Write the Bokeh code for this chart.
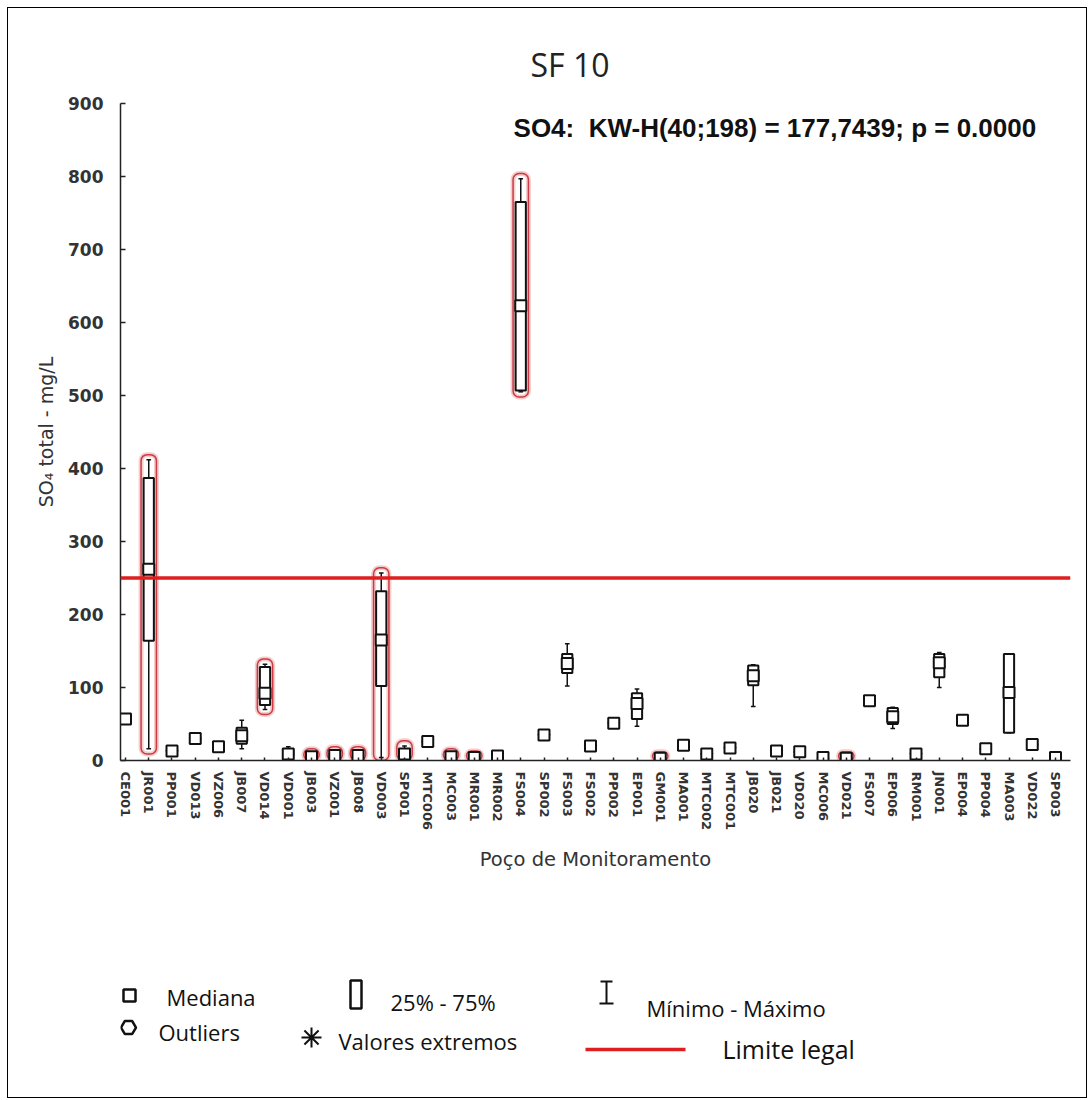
from bokeh.plotting import figure
from bokeh.models import Range1d, FixedTicker, Label, Span
from bokeh.layouts import column
from bokeh.embed import file_html
from bokeh.resources import INLINE
from bokeh.core.properties import value

# ---------------- data ----------------
wells = ["CE001", "JR001", "PP001", "VD013", "VZ006", "JB007", "VD014", "VD001", "JB003", "VZ001",
         "JB008", "VD003", "SP001", "MTC006", "MC003", "MR001", "MR002", "FS004", "SP002", "FS003",
         "FS002", "PP002", "EP001", "GM001", "MA001", "MTC002", "MTC001", "JB020", "JB021", "VD020",
         "MC006", "VD021", "FS007", "EP006", "RM001", "JN001", "EP004", "PP004", "MA003", "VD022",
         "SP003"]
w_min = [54, 16, 11, 28, 17, 16, 70, 3, 2, 2, 2, 4, 3, 24, 1, 1, 2, 505, 33, 102,
         18, 49, 47, 1, 19, 7, 15, 74, 11, 10, 2, 1, 80, 44, 7, 100, 53, 14, 38, 20, 2]
w_q1 = [55, 164, 12, 29, 18, 23, 76, 6, 3, 4, 4, 102, 6, 25, 3, 2, 4, 507, 34, 120,
        19, 50, 57, 2, 20, 8, 16, 103, 12, 11, 3, 2, 81, 50, 8, 114, 54, 15, 38, 21, 3]
w_med = [57, 262, 13, 30, 19, 34, 92, 9, 5, 7, 7, 165, 9, 26, 5, 4, 6, 623, 35, 133,
         20, 51, 78, 3, 21, 9, 17, 116, 13, 12, 4, 3, 82, 60, 9, 134, 55, 16, 93, 22, 4]
w_q3 = [59, 387, 14, 31, 20, 45, 128, 15, 7, 10, 10, 232, 12, 27, 7, 5, 8, 765, 36, 146,
        21, 52, 92, 4, 22, 10, 18, 130, 14, 13, 4, 4, 83, 72, 10, 146, 56, 17, 146, 23, 5]
w_max = [60, 412, 15, 32, 21, 55, 132, 19, 9, 12, 12, 257, 20, 28, 9, 6, 12, 797, 37, 160,
         22, 53, 98, 5, 23, 11, 19, 131, 15, 14, 5, 5, 84, 73, 11, 148, 57, 18, 146, 24, 6]
flagged = ["JR001", "VD014", "JB003", "VZ001", "JB008", "VD003", "SP001", "MC003", "MR001",
           "FS004", "GM001", "VD021"]
limit_value = 250
y_ticks = [0, 100, 200, 300, 400, 500, 600, 700, 800, 900]

title_text = "SF 10"
stat_text = "SO4:\u00a0\u00a0KW-H(40;198) = 177,7439; p = 0.0000"
x_label = "Poço de Monitoramento"
y_label = "SO\u2084 total - mg/L"
legend_labels = ["Mediana", "25% - 75%", "M\u00ednimo - M\u00e1ximo", "Outliers",
                 "Valores extremos", "Limite legal"]

# ---------------- main plot ----------------
idx = list(range(len(wells)))

W = 1078
p1 = figure(width=W, height=880, x_range=Range1d(-0.215, 40.645), y_range=Range1d(0, 900),
            output_backend="svg", toolbar_location=None,
            min_border_left=112, min_border_right=16, min_border_top=95, min_border_bottom=128)
p1.outline_line_color = None
p1.grid.visible = False

# red highlight outlines
pad = 7
fx = [wells.index(w) for w in flagged]
fb = [w_min[i] - pad for i in fx]
ft = [w_max[i] + pad for i in fx]
p1.vbar(x=fx, bottom=fb, top=ft, width=0.66, fill_color=None, line_color="#e07070",
        line_width=5, line_alpha=0.35, border_radius=6)
p1.vbar(x=fx, bottom=fb, top=ft, width=0.66, fill_color=None, line_color="#c82a35",
        line_width=1.5, line_alpha=0.9, border_radius=6)

# whiskers
p1.segment(x0=idx, y0=w_min, x1=idx, y1=w_max, line_color="#111111", line_width=1.5)
cap = 0.1
p1.segment(x0=[i - cap for i in idx], y0=w_min, x1=[i + cap for i in idx], y1=w_min,
           line_color="#111111", line_width=1.5)
p1.segment(x0=[i - cap for i in idx], y0=w_max, x1=[i + cap for i in idx], y1=w_max,
           line_color="#111111", line_width=1.5)
# boxes
p1.vbar(x=idx, bottom=w_q1, top=w_q3, width=0.44, fill_color="white", line_color="#111111",
        line_width=2)
# medians
p1.scatter(x=idx, y=w_med, marker="square", size=11, fill_color="white", line_color="#111111",
           line_width=2)

# legal limit
p1.add_layout(Span(location=limit_value, dimension="width", line_color="#dd1f1f", line_width=3.5))

# statistic text
p1.add_layout(Label(x=16.69, y=866, text=stat_text, text_font="Liberation Sans",
                    text_font_style="bold", text_font_size="26px", text_baseline="middle",
                    text_color="#111111"))

# title
p1.title.text = title_text
p1.title.align = "left"
p1.title.offset = 410
p1.title.standoff = 35
p1.title.text_font = "Open Sans"
p1.title.text_font_size = "32px"
p1.title.text_font_style = "normal"
p1.title.text_color = "#222222"

# axes
p1.yaxis.ticker = FixedTicker(ticks=y_ticks)
p1.yaxis.major_tick_in = 5
p1.yaxis.major_tick_out = 0
p1.yaxis.minor_tick_line_color = None
p1.yaxis.major_label_text_font = "DejaVu Sans"
p1.yaxis.major_label_text_font_style = "bold"
p1.yaxis.major_label_text_font_size = "17px"
p1.yaxis.major_label_text_color = "#333333"
p1.yaxis.major_label_standoff = 17
p1.yaxis.axis_label = y_label
p1.yaxis.axis_label_text_font = "DejaVu Sans"
p1.yaxis.axis_label_text_font_style = "normal"
p1.yaxis.axis_label_text_font_size = "19px"
p1.yaxis.axis_label_text_color = "#333333"
p1.yaxis.axis_label_standoff = 8

p1.xaxis.ticker = FixedTicker(ticks=idx)
p1.xaxis.major_label_overrides = {i: w for i, w in zip(idx, wells)}
p1.xaxis.major_label_orientation = "vertical"
p1.xaxis.major_tick_in = 3
p1.xaxis.major_tick_out = 0
p1.xaxis.minor_tick_line_color = None
p1.xaxis.major_label_text_font = "DejaVu Sans"
p1.xaxis.major_label_text_font_style = "bold"
p1.xaxis.major_label_text_font_size = "13px"
p1.xaxis.major_label_text_color = "#333333"
p1.xaxis.major_label_standoff = 11
p1.xaxis.axis_label = x_label
p1.xaxis.axis_label_text_font = "DejaVu Sans"
p1.xaxis.axis_label_text_font_style = "normal"
p1.xaxis.axis_label_text_font_size = "19.5px"
p1.xaxis.axis_label_text_color = "#333333"
p1.xaxis.axis_label_standoff = 15

for ax in (p1.xaxis, p1.yaxis):
    ax.axis_line_color = "#222222"
    ax.axis_line_width = 1.5
    ax.major_tick_line_color = "#222222"
    ax.major_tick_line_width = 1.5

# ---------------- legend panel (frame aligned with the plot above; page-pixel coordinates) ----
p2 = figure(width=W, height=209, x_range=Range1d(120, 1070), y_range=Range1d(1097, 888),
            output_backend="svg", toolbar_location=None,
            min_border_left=112, min_border_right=16, min_border_top=0, min_border_bottom=0,
            x_axis_location=None, y_axis_location=None)
p2.outline_line_color = None
p2.grid.visible = False

p2.scatter(x=[129], y=[995], marker="square", size=12, fill_color="white", line_color="#111111",
           line_width=2.5)
p2.quad(left=[350], right=[361], top=[980], bottom=[1008], fill_color="white",
        line_color="#111111", line_width=2.5)
p2.segment(x0=[606, 600, 599], y0=[981, 981, 1003], x1=[606, 612, 613], y1=[1003, 981, 1003],
           line_color="#111111", line_width=2)
p2.scatter(x=[128], y=[1027], marker="hex", size=15, fill_color="white", line_color="#111111",
           line_width=2.5)
p2.scatter(x=[311], y=[1037], marker="asterisk", size=20, line_color="#111111", line_width=2)
p2.segment(x0=[585], y0=[1049], x1=[685], y1=[1049], line_color="#dd1f1f", line_width=3.5)

p2.text(x=[166, 390, 646, 158, 338], y=[996, 1001, 1007, 1031, 1040], text=legend_labels[:5],
        text_font=value("Open Sans"), text_font_size="22px", text_baseline="middle",
        text_color="#111111")
p2.text(x=[722], y=[1048], text=legend_labels[5:], text_font=value("Open Sans"),
        text_font_size="25px", text_baseline="middle", text_color="#111111")

layout = column(p1, p2, margin=(8, 0, 0, 8),
                styles={"outline": "1px solid #000000", "outline-offset": "0px"})

open("out.html", "w").write(file_html(layout, INLINE))
